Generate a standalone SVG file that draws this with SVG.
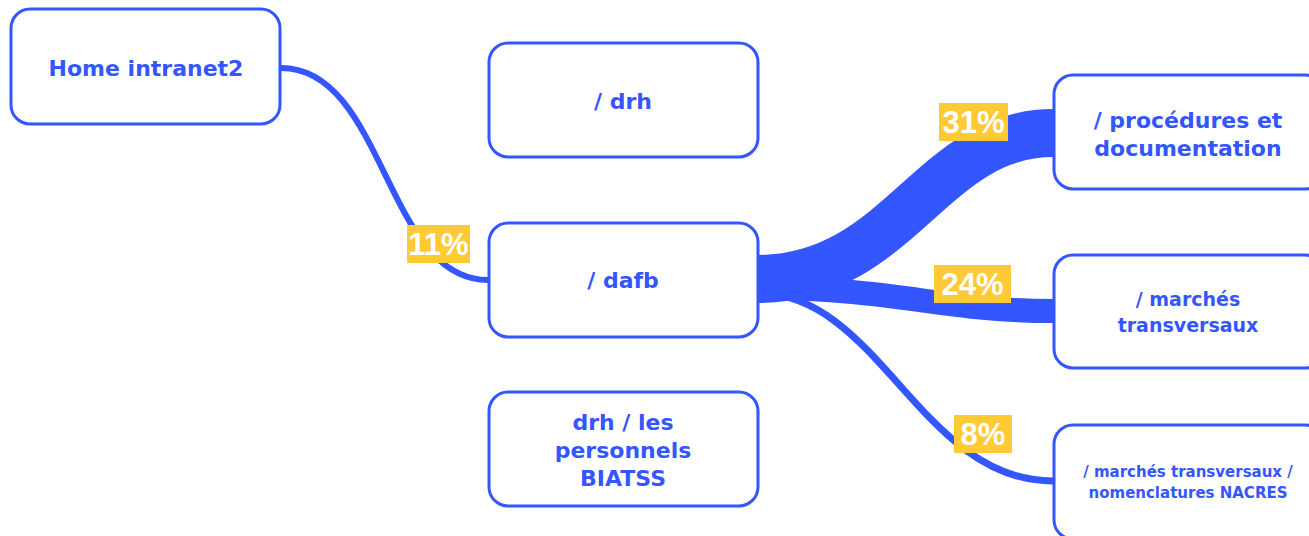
<svg xmlns="http://www.w3.org/2000/svg" width="1309" height="536" viewBox="0 0 1309 536">
<style>
.box{fill:#fff;stroke:#3356FF;stroke-width:3}
.t{font-family:"DejaVu Sans",sans-serif;font-weight:bold;fill:#3356FF;text-anchor:middle}
.c{fill:none;stroke:#3356FF}
.lb{fill:#FFCA33}
.lt{font-family:"Liberation Sans",Arial,sans-serif;font-weight:bold;font-size:31px;fill:#fff;text-anchor:middle}
</style>
<rect width="1309" height="536" fill="#fff"/>
<g id="connectors">
<path class="c" stroke-width="6" d="M281,68 C385,68 385,280 488,280"/>
<path class="c" stroke-width="48" d="M757,279 C900,279 930,133 1053,133"/>
<path class="c" stroke-width="24" d="M757,288 C900,288 940,311 1053,311"/>
<path class="c" stroke-width="7" d="M757,293 C880,293 920,481 1053,481"/>
<rect class="lb" x="407" y="225" width="63" height="38"/>
<text class="lt" x="438.5" y="255">11%</text>
<rect class="lb" x="939" y="103" width="69" height="38"/>
<text class="lt" x="973.5" y="133">31%</text>
<rect class="lb" x="934" y="265" width="77" height="38"/>
<text class="lt" x="972.5" y="295">24%</text>
<rect class="lb" x="954" y="415" width="58" height="38"/>
<text class="lt" x="983" y="445">8%</text>
</g>
<g id="home">
<rect class="box" x="11" y="9" width="269" height="115" rx="19"/>
<text class="t" x="146" y="76" font-size="22">Home intranet2</text>
</g>
<g id="drh">
<rect class="box" x="489" y="43" width="269" height="114" rx="19"/>
<text class="t" x="623" y="109" font-size="22">/ drh</text>
</g>
<g id="dafb">
<rect class="box" x="489" y="223" width="269" height="114" rx="19"/>
<text class="t" x="623" y="288" font-size="22">/ dafb</text>
</g>
<g id="biatss">
<rect class="box" x="489" y="392" width="269" height="114" rx="19"/>
<text class="t" x="623" y="430" font-size="22">drh / les</text>
<text class="t" x="623" y="458" font-size="22">personnels</text>
<text class="t" x="623" y="486" font-size="22">BIATSS</text>
</g>
<g id="procedures">
<rect class="box" x="1054" y="75" width="270" height="114" rx="19"/>
<text class="t" x="1188" y="128" font-size="22">/ procédures et</text>
<text class="t" x="1188" y="156" font-size="22">documentation</text>
</g>
<g id="marches">
<rect class="box" x="1054" y="255" width="270" height="113" rx="19"/>
<text class="t" x="1188" y="306" font-size="19">/ marchés</text>
<text class="t" x="1188" y="332" font-size="19">transversaux</text>
</g>
<g id="nacres">
<rect class="box" x="1054" y="425" width="270" height="114" rx="19"/>
<text class="t" x="1188" y="477" font-size="15">/ marchés transversaux /</text>
<text class="t" x="1188" y="498" font-size="15">nomenclatures NACRES</text>
</g>
</svg>
